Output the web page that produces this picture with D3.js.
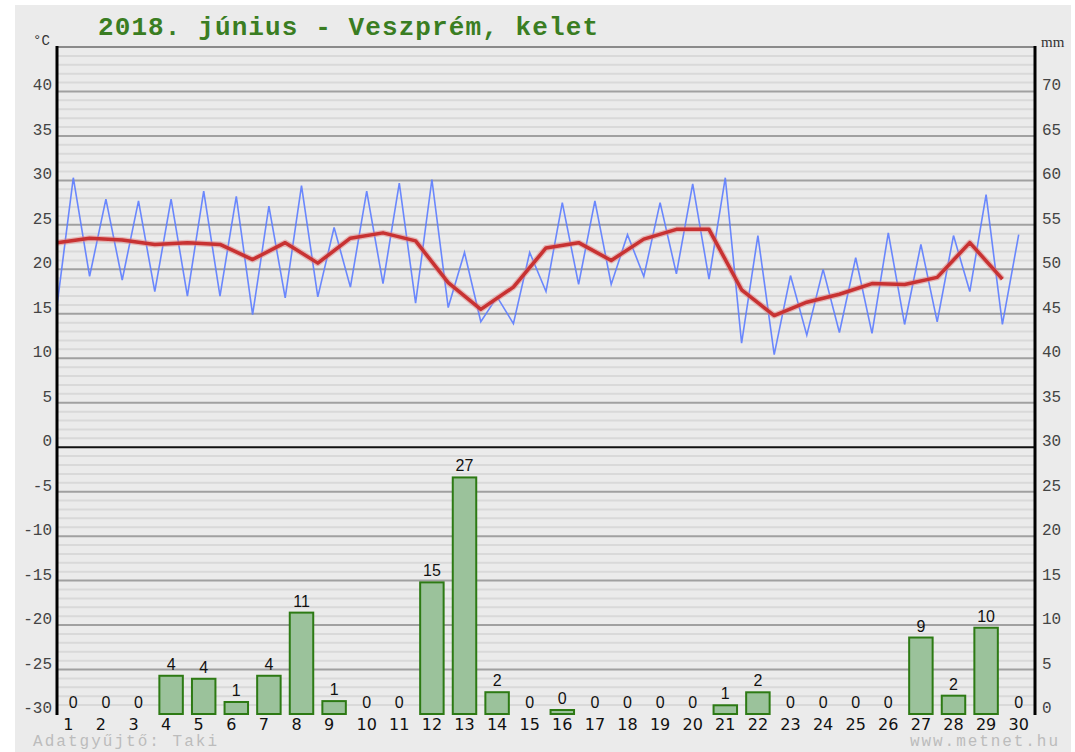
<!DOCTYPE html>
<html><head><meta charset="utf-8">
<script src="https://cdn.jsdelivr.net/npm/d3@7"></script>
<style>html,body{margin:0;padding:0;background:#fff;}svg{display:block;}</style>
</head><body>
<svg id="chart" width="1075" height="752"></svg>
<script>
const days = d3.range(1, 31);
// nightly minimum (plotted at start of day) and daily maximum (plotted at mid-day), °C
const tMin = [15.9,19.2,18.8,17.5,17.0,17.0,14.9,16.8,16.9,18.0,18.4,16.2,15.7,14.1,13.9,17.5,18.3,18.3,19.2,19.5,18.9,11.7,10.4,12.6,12.9,12.8,13.8,14.1,17.5,13.8];
const tMax = [30.3,27.9,27.7,27.9,28.8,28.2,27.1,29.4,24.7,28.8,29.7,30.1,21.9,16.9,21.9,27.5,27.7,23.9,27.5,29.6,30.3,23.8,19.3,20.0,21.3,24.1,22.8,23.8,28.4,23.9];
// daily mean temperature, °C
const tMean = [23.0,23.5,23.3,22.8,23.0,22.8,21.1,23.0,20.7,23.5,24.1,23.2,18.5,15.5,18.0,22.4,23.0,21.0,23.4,24.5,24.5,17.7,14.8,16.3,17.2,18.4,18.3,19.1,23.0,18.9];
// daily precipitation, mm
const precip = [0,0,0,4.3,3.96,1.35,4.3,11.4,1.45,0,0,14.8,26.6,2.45,0,0.45,0,0,0,0,0.98,2.44,0,0,0,0,8.6,2.06,9.7,0];
const leftTicks = [40,35,30,25,20,15,10,5,0,-5,-10,-15,-20,-25,-30];
const rightTicks = [70,65,60,55,50,45,40,35,30,25,20,15,10,5,0];
const title = "2018. június - Veszprém, kelet";

const svg = d3.select("#chart");
const L = 57, R = 1035, T = 47, B = 714;
const x = d3.scaleBand().domain(days).range([L, R]).paddingInner(0).paddingOuter(0);
const yT = d3.scaleLinear().domain([-30, 45]).range([B, T]);
const yP = d3.scaleLinear().domain([0, 75]).range([B, T]);
const bw = x.bandwidth();

svg.append("rect").attr("x", 15).attr("y", 5).attr("width", 1056).attr("height", 747).attr("fill", "#ebebeb");

// grid
const g = svg.append("g");
g.selectAll("line.minor").data(d3.range(-29, 45).filter(v => v % 5 !== 0)).join("line")
  .attr("x1", L).attr("x2", R).attr("y1", d => yT(d)).attr("y2", d => yT(d))
  .attr("stroke", "#d9d9d9").attr("stroke-width", 2);
g.selectAll("line.major").data([-25,-20,-15,-10,-5,5,10,15,20,25,30,35,40]).join("line")
  .attr("x1", L).attr("x2", R).attr("y1", d => yT(d)).attr("y2", d => yT(d))
  .attr("stroke", "#a0a0a0").attr("stroke-width", 2);
g.append("line").attr("x1", L).attr("x2", R).attr("y1", yT(45)).attr("y2", yT(45)).attr("stroke", "#8a8a8a").attr("stroke-width", 2);
g.append("line").attr("x1", L).attr("x2", R).attr("y1", yT(0)).attr("y2", yT(0)).attr("stroke", "#111").attr("stroke-width", 2);

// bars
const barW = bw * 0.72;
svg.append("g").selectAll("rect").data(days).join("rect")
  .attr("x", d => x(d) + (bw - barW) / 2)
  .attr("width", barW)
  .attr("y", (d, i) => yP(precip[i]))
  .attr("height", (d, i) => B - yP(precip[i]))
  .attr("fill", "#9bc29b").attr("stroke", "#2d7a14").attr("stroke-width", 2);
svg.append("g").selectAll("text").data(days).join("text")
  .attr("x", d => x(d) + bw / 2)
  .attr("y", (d, i) => yP(precip[i]) - 6)
  .attr("text-anchor", "middle")
  .attr("font-family", "Liberation Sans, Arial, sans-serif").attr("font-size", 16).attr("fill", "#111")
  .text((d, i) => Math.round(precip[i]));

// temperature lines
const bluePts = [];
days.forEach((d, i) => { bluePts.push([x(d), tMin[i]]); bluePts.push([x(d) + bw / 2, tMax[i]]); });
svg.append("path").datum(bluePts)
  .attr("d", d3.line().x(p => p[0]).y(p => yT(p[1])))
  .attr("fill", "none").attr("stroke", "#5c7cff").attr("stroke-width", 1.6).attr("stroke-opacity", 0.9);
const meanPts = days.map((d, i) => [x(d), tMean[i]]);
svg.append("path").datum(meanPts)
  .attr("d", d3.line().x(p => p[0]).y(p => yT(p[1])))
  .attr("fill", "none").attr("stroke", "#e08080").attr("stroke-width", 6).attr("stroke-opacity", 0.5)
  .attr("stroke-linejoin", "round");
svg.append("path").datum(meanPts)
  .attr("d", d3.line().x(p => p[0]).y(p => yT(p[1])))
  .attr("fill", "none").attr("stroke", "#c83232").attr("stroke-width", 3.5)
  .attr("stroke-linejoin", "round");

// axes lines
svg.append("line").attr("x1", L).attr("x2", L).attr("y1", T - 1).attr("y2", B + 1).attr("stroke", "#000").attr("stroke-width", 3);
svg.append("line").attr("x1", R).attr("x2", R).attr("y1", T - 1).attr("y2", B + 1).attr("stroke", "#000").attr("stroke-width", 3);

// tick labels
const tickFont = "Liberation Mono, Courier New, monospace";
svg.append("g").selectAll("text").data(leftTicks).join("text")
  .attr("x", 52).attr("y", d => yT(d) - 1).attr("text-anchor", "end")
  .attr("font-family", tickFont).attr("font-size", 16).attr("fill", "#444").text(d => d);
svg.append("g").selectAll("text").data(rightTicks).join("text")
  .attr("x", 1042).attr("y", d => yP(d) - 1).attr("text-anchor", "start")
  .attr("font-family", tickFont).attr("font-size", 16).attr("fill", "#444").text(d => d);
svg.append("text").attr("x", 33).attr("y", 45).attr("font-family", tickFont).attr("font-size", 14).attr("fill", "#333").text("°C");
svg.append("text").attr("x", 1041).attr("y", 47).attr("font-family", "Liberation Serif, serif").attr("font-size", 15).attr("fill", "#333").text("mm");

// day labels
svg.append("g").selectAll("text").data(days).join("text")
  .attr("x", d => x(d) + bw / 2 - (d < 10 ? 5 : 0)).attr("y", 729.5).attr("text-anchor", "middle")
  .attr("font-family", "DejaVu Sans, sans-serif").attr("font-size", 16).attr("fill", "#111").text(d => d);

// title & footer
svg.append("text").attr("x", 98).attr("y", 35).attr("textLength", 500).attr("lengthAdjust", "spacing")
  .attr("font-family", tickFont).attr("font-weight", "bold").attr("font-size", 26).attr("fill", "#3a7d22").text(title);
svg.append("text").attr("x", 33).attr("y", 746).attr("textLength", 184).attr("lengthAdjust", "spacing")
  .attr("font-family", tickFont).attr("font-size", 16).attr("fill", "#bcbcbc").text("Adatgyűjtő: Taki");
svg.append("text").attr("x", 910).attr("y", 746).attr("textLength", 148).attr("lengthAdjust", "spacing")
  .attr("font-family", tickFont).attr("font-size", 16).attr("fill", "#bcbcbc").text("www.metnet.hu");
</script>
</body></html>
